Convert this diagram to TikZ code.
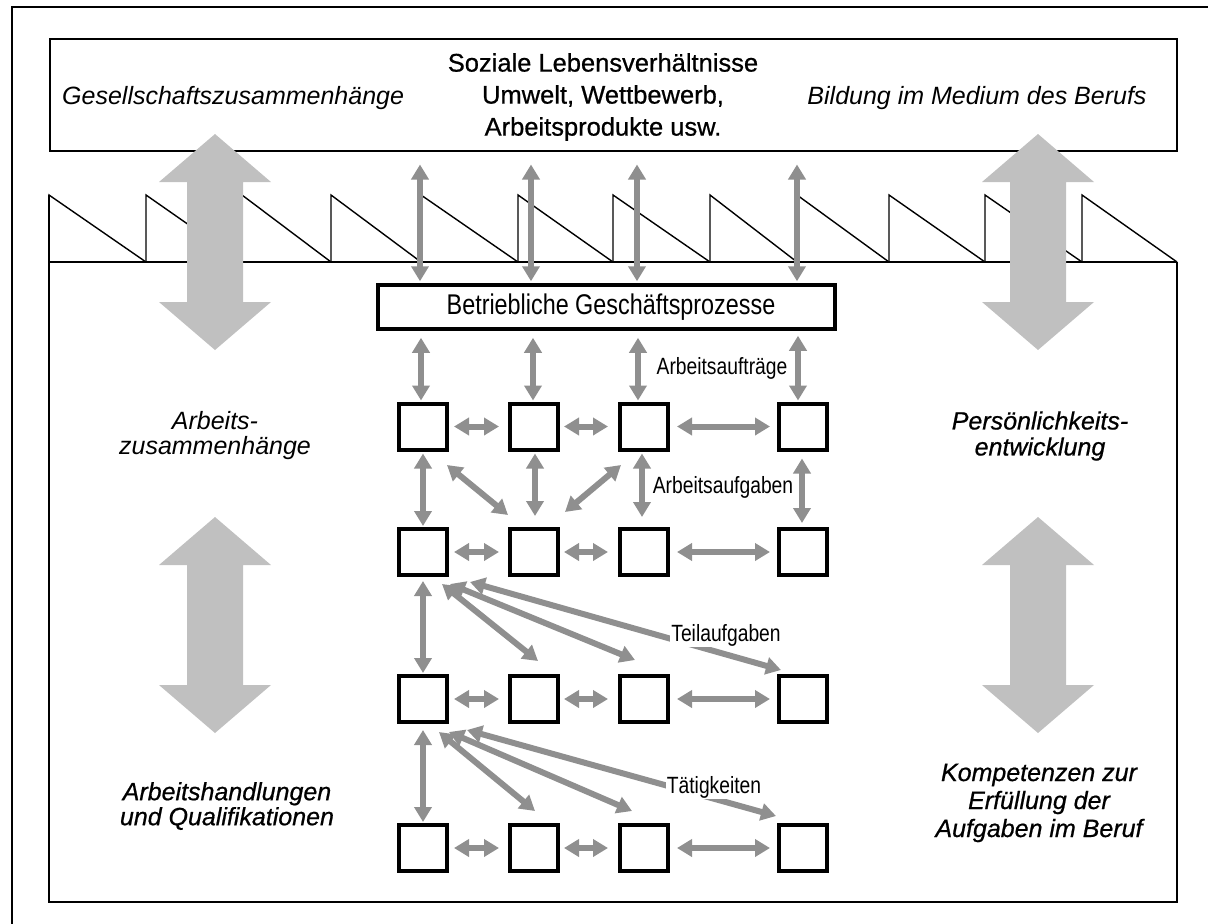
\documentclass[tikz,border=0pt]{standalone}
\usepackage{fontspec}
\setmainfont{Liberation Sans}
\newfontfamily\narrowfont[FakeStretch=0.82]{Liberation Sans}
\newfontfamily\heavyfont[FakeBold=0.7]{Liberation Sans}
\usetikzlibrary{arrows.meta,calc}
\definecolor{agray}{RGB}{143,143,143}
\definecolor{bgray}{RGB}{192,192,192}
\newcommand{\bigdarrow}[3]{%
  \fill[bgray] (#1,#2) -- (#1+56,#2+48) -- (#1+28,#2+48) -- (#1+28,#3-48) -- (#1+56,#3-48)
   -- (#1,#3) -- (#1-56,#3-48) -- (#1-28,#3-48) -- (#1-28,#2+48) -- (#1-56,#2+48) -- cycle;}
\tikzset{
  sbox/.style={draw, line width=4pt, minimum width=48pt, minimum height=46pt, inner sep=0pt, fill=white},
  sarr/.style={draw=agray, line width=6pt, arrows={Triangle[length=15pt,width=17pt]-Triangle[length=15pt,width=17pt]}},
  toptext/.style={font=\fontsize{25}{32}\selectfont, inner sep=0pt, align=center},
  sidetext/.style={font=\fontsize{25}{25}\selectfont\itshape, inner sep=0pt, align=center},
  heavyside/.style={font=\heavyfont\fontsize{25}{26}\selectfont\itshape, inner sep=0pt, align=center},
  narrowlabel/.style={font=\narrowfont\fontsize{23.5}{25}\selectfont, inner sep=1pt},
  frameline/.style={line width=1.4pt, line join=miter}
}
\begin{document}
\begin{tikzpicture}[x=1pt,y=-1pt]
\useasboundingbox (0,0) rectangle (1208,924);
\clip (0,0) rectangle (1208,924);
% outer frame (partly outside the picture)
\draw[line width=2pt] (12,940) -- (12,7) -- (1220,7);
% top box
\node[draw, line width=2pt, minimum width=1127pt, minimum height=112pt, inner sep=0pt] (topbox) at (613,94.5) {};
\node[toptext, font=\fontsize{25}{32}\selectfont\itshape, anchor=west] (gz) at (62,98) {Gesellschaftszusammenhänge};
\node[toptext, font=\heavyfont\fontsize{25.5}{32}\selectfont] (slv) at (603,97) {Soziale Lebensverhältnisse\\Umwelt, Wettbewerb,\\Arbeitsprodukte usw.};
\node[toptext, font=\fontsize{25}{32}\selectfont\itshape] (bmb) at (977,98) {Bildung im Medium des Berufs};
% main frame with sawtooth
\draw[frameline] (49,195) -- (49,902) -- (1177,902) -- (1177,262);
\draw[frameline] (49,262) -- (1177,262);
\foreach \a/\b in {49/146,146/242,242/331,331/421,421/518,518/613,613/710,710/797,797/889,889/985,985/1082,1082/1177}
  \draw[frameline] (\a,262) -- (\a,195) -- (\b,262);
% big grey arrows
\bigdarrow{215}{134}{350}
\bigdarrow{1038}{134}{350}
\bigdarrow{215}{517}{733}
\bigdarrow{1038}{517}{733}
% side texts
\node[sidetext] (az) at (215,436) {Arbeits-\\zusammenhänge};
\node[heavyside, font=\heavyfont\fontsize{25}{25}\selectfont\itshape] (ahq) at (227,806) {Arbeitshandlungen\\und Qualifikationen};
\node[heavyside] (pe) at (1040,436) {Persönlichkeits-\\entwicklung};
\node[heavyside, font=\heavyfont\fontsize{25}{28}\selectfont\itshape] (kze) at (1039,803) {Kompetenzen zur\\Erfüllung der\\Aufgaben im Beruf};
% business process box
\node[draw, line width=4pt, minimum width=457pt, minimum height=43.5pt, inner sep=0pt, fill=white] (betr) at (606,307) {};
\node[inner sep=0pt, font=\narrowfont\fontsize{28.5}{30}\selectfont] (betrtext) at (611,307) {Betriebliche Geschäftsprozesse};
% small boxes
\foreach \r/\y in {1/426.5,2/552,3/699,4/848}
  \foreach \c/\x in {1/423,2/534,3/644,4/803}
    \node[sbox] (b\r\c) at (\x,\y) {};
% arrows top box -> business processes
\draw[sarr] ($(topbox.south -| b11.north)+(-3,13)$) -- ($(betr.north -| b11.north)+(-3,-2)$);
\draw[sarr] ($(topbox.south -| b12.north)+(-3,13)$) -- ($(betr.north -| b12.north)+(-3,-2)$);
\draw[sarr] ($(topbox.south -| b13.north)+(-7,13)$) -- ($(betr.north -| b13.north)+(-7,-2)$);
\draw[sarr] ($(topbox.south -| b14.north)+(-6,13)$) -- ($(betr.north -| b14.north)+(-6,-2)$);
% business processes -> row 1
\draw[sarr] ($(betr.south -| b11.north)+(-2,7)$) -- ($(b11.north)+(-2,-1)$);
\draw[sarr] ($(betr.south -| b12.north)+(-1,7)$) -- ($(b12.north)+(-1,-1)$);
\draw[sarr] ($(betr.south -| b13.north)+(-6,7)$) -- ($(b13.north)+(-6,-1)$);
\draw[sarr] ($(betr.south -| b14.north)+(-5,5)$) -- ($(b14.north)+(-5,-1)$);
% horizontal arrows
\foreach \r in {1,2,3,4}{
  \draw[sarr, shorten <=5pt, shorten >=9pt] (b\r1.east) -- (b\r2.west);
  \draw[sarr, shorten <=4pt, shorten >=10pt] (b\r2.east) -- (b\r3.west);
  \draw[sarr, shorten <=7pt, shorten >=7pt] (b\r3.east) -- (b\r4.west);
}
% row 1 -> row 2
\draw[sarr] ($(b11.south)+(0,2)$) -- ($(b21.north)+(0,-1)$);
\draw[sarr] ($(b12.south)+(1,2)$) -- ($(b22.north)+(1,-11)$);
\draw[sarr] ($(b13.south)+(-2,2)$) -- ($(b23.north)+(-2,-10)$);
\draw[sarr] ($(b14.south)+(-1,7)$) -- ($(b24.north)+(-1,-4)$);
\draw[sarr] ($(b11.south east)+(-2,13.5)$) -- ($(b22.north west)+(0,-12)$);
\draw[sarr] ($(b13.south west)+(3,13.5)$) -- ($(b22.north east)+(5,-15)$);
% row 2 -> row 3
\draw[sarr] ($(b21.south)+(0,4)$) -- ($(b31.north)+(0,-1)$);
\draw[sarr] ($(b21.south east)+(-7,7)$) -- ($(b32.north)+(4,-13)$);
\draw[sarr] ($(b21.south east)+(1,7)$) -- ($(b33.north west)+(17,-14)$);
\draw[sarr] ($(b21.south east)+(21,5)$) -- ($(b34.north west)+(4,-4)$);
% row 3 -> row 4
\draw[sarr] ($(b31.south)+(0,6)$) -- ($(b41.north)+(0,-1)$);
\draw[sarr] ($(b31.south east)+(-10,8)$) -- ($(b42.north)+(1,-12)$);
\draw[sarr] ($(b31.south east)+(0,8)$) -- ($(b43.north west)+(14,-12)$);
\draw[sarr] ($(b31.south east)+(18,6)$) -- ($(b44.north west)+(-1,-7)$);
% labels
\node[narrowlabel] (ag) at (722,368) {Arbeitsaufträge};
\node[narrowlabel] (aa) at (723,487) {Arbeitsaufgaben};
\node[narrowlabel, fill=white] (ta) at (726,635) {Teilaufgaben};
\node[narrowlabel, fill=white] (tk) at (714,787) {Tätigkeiten};
\end{tikzpicture}
\end{document}
